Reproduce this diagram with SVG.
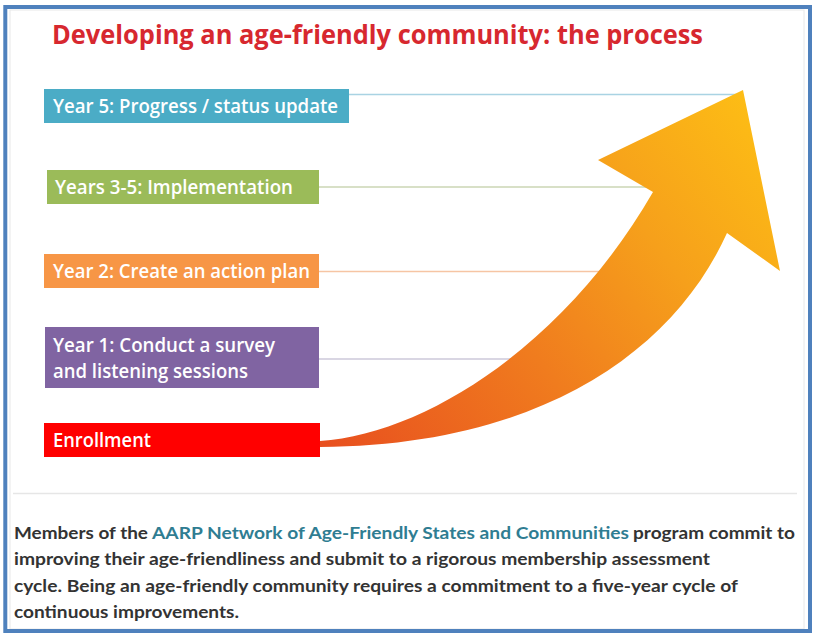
<svg xmlns="http://www.w3.org/2000/svg" width="813" height="633" viewBox="0 0 813 633">
<defs>
<linearGradient id="arrowGrad" gradientUnits="userSpaceOnUse" x1="330" y1="450" x2="760" y2="110">
<stop offset="0" stop-color="#E8501F"/>
<stop offset="0.4" stop-color="#F07C1E"/>
<stop offset="0.7" stop-color="#F6A01B"/>
<stop offset="1" stop-color="#FDBD15"/>
</linearGradient>
<style>
.lbl{font-family:"Open Sans","Noto Sans",sans-serif;font-weight:600;font-size:19px;fill:#FFFFFF}
.body{font-family:Lato,"Noto Sans",sans-serif;font-weight:700;font-size:17px;fill:#333333}
.link{fill:#2F7D92}
.conn{stroke-width:1.5;fill:none}
</style>
</defs>
<rect x="0" y="0" width="813" height="633" fill="#FFFFFF"/>
<rect x="10" y="10" width="794" height="619" fill="none" stroke="#E8E8E8" stroke-width="1"/>
<rect x="5.3" y="7" width="804.7" height="624" fill="none" stroke="#4F81BD" stroke-width="4"/>

<text id="title" x="52" y="44" font-family="'Open Sans','Noto Sans',sans-serif" font-weight="700" font-size="27" fill="#D7282F" textLength="651" lengthAdjust="spacingAndGlyphs">Developing an age-friendly community: the process</text>

<g id="connectors">
<line class="conn" x1="349" y1="94.5" x2="738" y2="94.5" stroke="#A9D3E3"/>
<line class="conn" x1="319" y1="187" x2="660" y2="187" stroke="#CBD6B5"/>
<line class="conn" x1="319" y1="271.5" x2="610" y2="271.5" stroke="#F6C5A4"/>
<line class="conn" x1="319" y1="359" x2="530" y2="359" stroke="#CDC8DA"/>
</g>

<g id="arrow">
<path d="M320,441 C425,434 565,345 653,192 L598,160 L743,90 L780,271 L727,233 C672,355 535,446 320,447 Z" fill="url(#arrowGrad)"/>
</g>

<g id="year5">
<rect x="44" y="89" width="305" height="34" fill="#4BACC6"/>
<text class="lbl" x="53" y="113" textLength="285" lengthAdjust="spacingAndGlyphs">Year 5: Progress / status update</text>
</g>
<g id="years3-5">
<rect x="47" y="170" width="272" height="34" fill="#9BBB59"/>
<text class="lbl" x="55" y="194" textLength="238" lengthAdjust="spacingAndGlyphs">Years 3-5: Implementation</text>
</g>
<g id="year2">
<rect x="44" y="254" width="275" height="34" fill="#F79646"/>
<text class="lbl" x="53" y="278" textLength="257" lengthAdjust="spacingAndGlyphs">Year 2: Create an action plan</text>
</g>
<g id="year1">
<rect x="45" y="327" width="274" height="61" fill="#8064A2"/>
<text class="lbl" x="53" y="352" textLength="222" lengthAdjust="spacingAndGlyphs">Year 1: Conduct a survey</text>
<text class="lbl" x="53" y="378" textLength="195" lengthAdjust="spacingAndGlyphs">and listening sessions</text>
</g>
<g id="enrollment">
<rect x="44" y="423" width="276" height="34" fill="#FF0000"/>
<text class="lbl" x="53" y="447" textLength="98" lengthAdjust="spacingAndGlyphs">Enrollment</text>
</g>

<line x1="13" y1="493.5" x2="797" y2="493.5" stroke="#E6E6E6" stroke-width="1.5"/>

<g id="caption">
<text class="body" x="14" y="539" textLength="134" lengthAdjust="spacingAndGlyphs">Members of the</text>
<text class="body link" x="152" y="539" textLength="477" lengthAdjust="spacingAndGlyphs">AARP Network of Age-Friendly States and Communities</text>
<text class="body" x="633" y="539" textLength="162" lengthAdjust="spacingAndGlyphs">program commit to</text>
<text class="body" x="14" y="565" textLength="696" lengthAdjust="spacingAndGlyphs">improving their age-friendliness and submit to a rigorous membership assessment</text>
<text class="body" x="14" y="592" textLength="724" lengthAdjust="spacingAndGlyphs">cycle. Being an age-friendly community requires a commitment to a five-year cycle of</text>
<text class="body" x="14" y="618" textLength="225" lengthAdjust="spacingAndGlyphs">continuous improvements.</text>
</g>
</svg>
